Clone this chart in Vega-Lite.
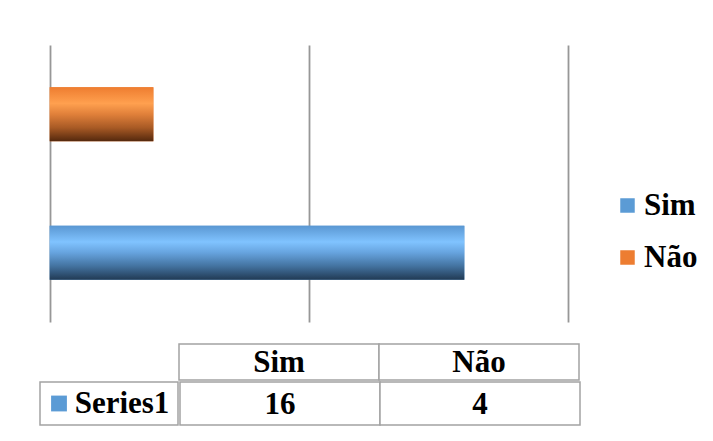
{
  "$schema": "https://vega.github.io/schema/vega-lite/v6.json",
  "background": "white",
  "padding": {"left": 39, "top": 45, "right": 0, "bottom": 0},
  "datasets": {
    "votes": [
      {"cat": "Sim", "value": 16, "series": "Series1"},
      {"cat": "Não", "value": 4, "series": "Series1"}
    ]
  },
  "config": {
    "view": {"stroke": null},
    "font": "Liberation Serif"
  },
  "spacing": 21,
  "vconcat": [
    {
      "width": 528,
      "height": 277,
      "data": {"name": "votes"},
      "encoding": {
        "y": {
          "field": "cat", "type": "nominal", "sort": ["Não", "Sim"], "axis": null,
          "scale": {"paddingInner": 0.61, "paddingOuter": 0.305}
        },
        "x": {
          "field": "value", "type": "quantitative",
          "scale": {"domain": [-0.375, 20], "nice": false},
          "axis": {"values": [0, 10, 20], "labels": false, "ticks": false, "domain": false, "title": null,
                   "grid": true, "gridColor": "#979797", "gridWidth": 1.8}
        }
      },
      "layer": [
        {
          "mark": {"type": "bar"},
          "encoding": {
            "color": {
              "field": "cat", "type": "nominal",
              "scale": {"domain": ["Sim", "Não"], "range": ["#5b9bd5", "#ed7d31"]},
              "legend": {
                "orient": "none", "legendX": 572, "legendY": 145, "title": null,
                "symbolType": "square", "symbolSize": 210, "symbolStrokeWidth": 0,
                "labelFont": "Liberation Serif", "labelFontSize": 31, "labelFontWeight": "bold",
                "labelColor": "black", "labelOffset": 1, "rowPadding": 20, "padding": 0
              }
            }
          }
        },
        {
          "mark": {"type": "bar"},
          "encoding": {
            "fill": {
              "condition": {
                "test": "datum.cat === 'Sim'",
                "value": {
                  "gradient": "linear", "x1": 0, "y1": 0, "x2": 0, "y2": 1,
                  "stops": [
                    {"offset": 0, "color": "#5a97d2"},
                    {"offset": 0.3, "color": "#80c3ff"},
                    {"offset": 0.5, "color": "#66a3de"},
                    {"offset": 0.75, "color": "#43729f"},
                    {"offset": 1, "color": "#213a54"}
                  ]
                }
              },
              "value": {
                "gradient": "linear", "x1": 0, "y1": 0, "x2": 0, "y2": 1,
                "stops": [
                  {"offset": 0, "color": "#ee7d30"},
                  {"offset": 0.3, "color": "#ffa04f"},
                  {"offset": 0.5, "color": "#e0803a"},
                  {"offset": 0.75, "color": "#a85a25"},
                  {"offset": 1, "color": "#54280d"}
                ]
              }
            }
          }
        }
      ]
    },
    {
      "spacing": 0,
      "vconcat": [
        {
          "spacing": 0,
          "hconcat": [
            {
              "width": 138, "height": 36,
              "data": {"values": [{"blank": ""}]},
              "mark": {"type": "text"},
              "encoding": {"text": {"field": "blank"}}
            },
            {
              "width": 400, "height": 36,
              "data": {"name": "votes"},
              "encoding": {
                "x": {"field": "cat", "type": "nominal", "sort": ["Sim", "Não"], "axis": null,
                      "scale": {"paddingInner": 0, "paddingOuter": 0}}
              },
              "layer": [
                {"mark": {"type": "rect", "fill": "white", "stroke": "#a3a3a3", "strokeWidth": 1.5}},
                {"mark": {"type": "text", "fontSize": 31, "fontWeight": "bold", "font": "Liberation Serif", "color": "black", "dy": 1},
                 "encoding": {"text": {"field": "cat"}}}
              ]
            }
          ]
        },
        {
          "spacing": 0,
          "hconcat": [
            {
              "width": 138, "height": 43,
              "data": {"name": "votes"},
              "transform": [{"aggregate": [{"op": "count", "as": "n"}], "groupby": ["series"]}],
              "layer": [
                {"mark": {"type": "rect", "fill": "white", "stroke": "#a3a3a3", "strokeWidth": 1.5}, "encoding": {}},
                {"mark": {"type": "point", "shape": "square", "filled": true, "size": 250, "color": "#5b9bd5", "opacity": 1, "xOffset": -50},
                 "encoding": {}},
                {"mark": {"type": "text", "fontSize": 31, "fontWeight": "bold", "font": "Liberation Serif", "color": "black", "dx": 13},
                 "encoding": {"text": {"field": "series"}}}
              ]
            },
            {
              "width": 400, "height": 43,
              "data": {"name": "votes"},
              "encoding": {
                "x": {"field": "cat", "type": "nominal", "sort": ["Sim", "Não"], "axis": null,
                      "scale": {"paddingInner": 0, "paddingOuter": 0}}
              },
              "layer": [
                {"mark": {"type": "rect", "fill": "white", "stroke": "#a3a3a3", "strokeWidth": 1.5}},
                {"mark": {"type": "text", "fontSize": 31, "fontWeight": "bold", "font": "Liberation Serif", "color": "black", "dy": 1},
                 "encoding": {"text": {"field": "value", "type": "quantitative"}}}
              ]
            }
          ]
        }
      ]
    }
  ]
}
